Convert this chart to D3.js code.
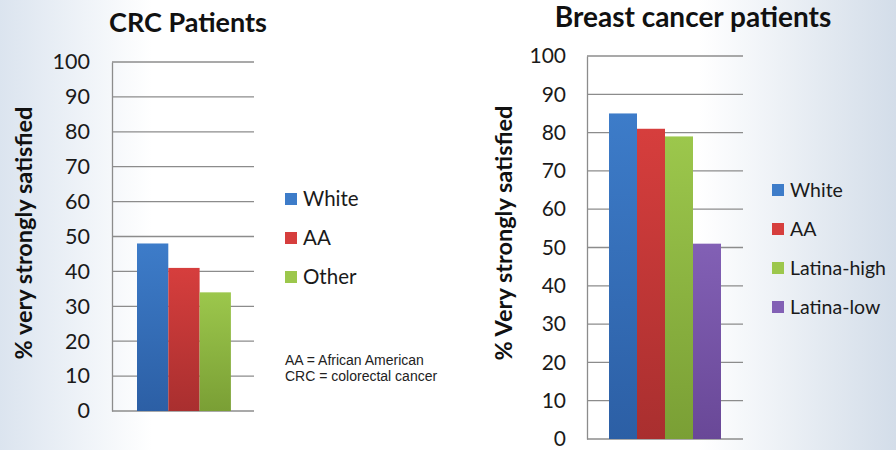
<!DOCTYPE html>
<html>
<head>
<meta charset="utf-8">
<script src="https://cdn.jsdelivr.net/npm/d3@7"></script>
<style>
  body { margin: 0; }
  svg { display: block; }
</style>
</head>
<body>
<script>
// Chart data
let crcGroups = ['White', 'AA', 'Other'];
let crcValues = [48, 41, 34];
let breastGroups = ['White', 'AA', 'Latina-high', 'Latina-low'];
let breastValues = [85, 81, 79, 51];
let yTicks = [0, 10, 20, 30, 40, 50, 60, 70, 80, 90, 100];
let footnotes = ['AA = African American', 'CRC = colorectal cancer'];

let groupColors = {
  'White': ['#3d7cc9', '#2c5fa5'],
  'AA': ['#d63e3d', '#a92f2f'],
  'Other': ['#9cc74c', '#7a9f35'],
  'Latina-high': ['#9cc74c', '#7a9f35'],
  'Latina-low': ['#8260b5', '#694897']
};

let svgWidth = 896;
let svgHeight = 450;
let font = 'Lato, "Open Sans", sans-serif';

let svg = d3.select('body')
  .append('svg')
  .attr('width', svgWidth)
  .attr('height', svgHeight);

let defs = svg.append('defs');

// slide background: bluish at the left edge and on the right side
let bg = defs.append('linearGradient').attr('id', 'bg');
[[0, '#dbe4ef'], [0.17, '#ffffff'], [0.78, '#ffffff'], [1, '#d3dde9']].forEach(s => {
  bg.append('stop').attr('offset', s[0]).attr('stop-color', s[1]);
});
svg.append('rect')
  .attr('width', svgWidth)
  .attr('height', svgHeight)
  .attr('fill', 'url(#bg)');

// a vertical gradient for each bar colour
Object.keys(groupColors).forEach(name => {
  let g = defs.append('linearGradient')
    .attr('id', 'grad-' + name)
    .attr('x1', 0).attr('y1', 0).attr('x2', 0).attr('y2', 1);
  g.append('stop').attr('offset', 0).attr('stop-color', groupColors[name][0]);
  g.append('stop').attr('offset', 1).attr('stop-color', groupColors[name][1]);
});

function drawChart(opt) {
  let yScale = d3.scaleLinear()
    .domain([0, 100])
    .range([opt.bottom, opt.top]);
  let xScale = d3.scaleBand()
    .domain(opt.groups)
    .range([opt.barStart, opt.barStart + opt.barWidth * opt.groups.length])
    .padding(0);

  let chartGroup = svg.append('g');

  // gridlines
  chartGroup.selectAll('.grid')
    .data(yTicks)
    .enter()
    .append('line')
    .attr('x1', opt.left)
    .attr('x2', opt.right)
    .attr('y1', d => yScale(d))
    .attr('y2', d => yScale(d))
    .attr('stroke', '#8c8c8c')
    .attr('stroke-width', 1.3);

  // left axis with labels
  let yAxis = d3.axisLeft(yScale)
    .tickValues(yTicks)
    .tickSize(0)
    .tickPadding(opt.left - opt.labelX);
  let axisG = chartGroup.append('g')
    .attr('transform', `translate(${opt.left}, 0)`)
    .call(yAxis);
  axisG.select('.domain')
    .attr('stroke', '#8c8c8c')
    .attr('stroke-width', 1.3);
  axisG.selectAll('text')
    .style('font-family', font)
    .style('font-size', opt.tickSize + 'px')
    .attr('fill', '#1a1a1a');

  // bars
  chartGroup.selectAll('.bar')
    .data(opt.values)
    .enter()
    .append('rect')
    .attr('x', (d, i) => xScale(opt.groups[i]))
    .attr('y', d => yScale(d))
    .attr('width', xScale.bandwidth())
    .attr('height', d => opt.bottom - yScale(d))
    .attr('fill', (d, i) => 'url(#grad-' + opt.groups[i] + ')');

  // title
  chartGroup.append('text')
    .attr('x', opt.titleX)
    .attr('y', opt.titleY)
    .attr('text-anchor', 'middle')
    .style('font-family', font)
    .style('font-size', opt.titleSize + 'px')
    .style('font-weight', 'bold')
    .attr('fill', '#111')
    .text(opt.title);

  // y label
  chartGroup.append('text')
    .attr('transform', `translate(${opt.yLabelX}, ${opt.yLabelY}) rotate(-90)`)
    .attr('text-anchor', 'middle')
    .style('font-family', font)
    .style('font-size', '23.5px')
    .style('font-weight', 'bold')
    .attr('fill', '#111')
    .text(opt.yLabel);

  // legend
  let legend = chartGroup.selectAll('.legend')
    .data(opt.groups)
    .enter()
    .append('g')
    .attr('transform', (d, i) => `translate(${opt.legendX}, ${opt.legendY + i * opt.legendStep})`);
  legend.append('rect')
    .attr('x', 0)
    .attr('y', -6)
    .attr('width', 12)
    .attr('height', 12)
    .attr('fill', d => groupColors[d][0]);
  legend.append('text')
    .attr('x', 18)
    .attr('y', 7)
    .style('font-family', font)
    .style('font-size', opt.legendSize + 'px')
    .attr('fill', '#1a1a1a')
    .text(d => d);
}

drawChart({
  title: 'CRC Patients', titleSize: 27,
  titleX: 188, titleY: 32,
  yLabel: '% very strongly satisfied', yLabelX: 32, yLabelY: 233,
  groups: crcGroups, values: crcValues,
  left: 112, right: 254, top: 62, bottom: 411,
  labelX: 90, tickSize: 21.5, barStart: 137, barWidth: 31.3,
  legendX: 285, legendY: 199, legendStep: 39, legendSize: 20.5
});

drawChart({
  title: 'Breast cancer patients', titleSize: 28,
  titleX: 693, titleY: 27,
  yLabel: '% Very strongly satisfied', yLabelX: 512, yLabelY: 233,
  groups: breastGroups, values: breastValues,
  left: 587, right: 743, top: 56, bottom: 439,
  labelX: 566, tickSize: 21, barStart: 609, barWidth: 28,
  legendX: 772, legendY: 190, legendStep: 39, legendSize: 19.5
});

// footnote under the CRC legend
svg.selectAll('.note')
  .data(footnotes)
  .enter()
  .append('text')
  .attr('x', 285)
  .attr('y', (d, i) => 365 + i * 16)
  .style('font-family', '"Liberation Sans", Arial, sans-serif')
  .style('font-size', '14px')
  .attr('fill', '#222')
  .text(d => d);
</script>
</body>
</html>
